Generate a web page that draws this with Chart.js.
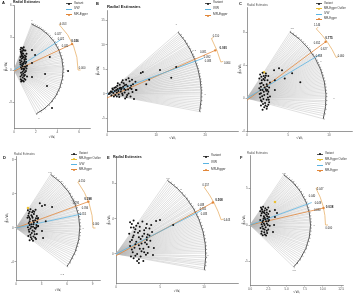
<!DOCTYPE html>
<html>
<head>
<meta charset="utf-8">
<script src="https://cdn.jsdelivr.net/npm/chart.js@4/dist/chart.umd.min.js"></script>
<style>
  body { margin: 0; width: 363px; height: 300px; background: #fff; position: relative; overflow: hidden;
         font-family: "Liberation Sans", "DejaVu Sans", sans-serif; }
  canvas { position: absolute; }
  .txt { position: absolute; white-space: nowrap; line-height: 1; color: #222; z-index: 2; }
  .key { position: absolute; width: 6px; height: 0; border-top: 0.7px solid; z-index: 2; }
  .key b { position: absolute; left: 2px; top: -1.4px; width: 2px; height: 2px; border-radius: 50%; }
</style>
</head>
<body>
<script>
// ---- data ----
const xTicks = [[0, 2, 4, 6], [0, 10, 20], [0, 5, 10], [0, 3, 6, 9], [0, 5, 10], [0, 2.5, 5, 7.5, 10, 12.5]];
const yTicks = [[-3, 0, 3, 6], [-5, 0, 5, 10, 15], [-4, 0, 4, 8], [-4, 0, 4, 8], [0, 4, 8], [-5, 0, 5]];

const variantsA = [[0.6,1.9],[0.75,2.0],[0.9,2.1],[1.05,1.8],[0.65,1.6],[0.85,1.5],[1.0,1.35],[1.15,1.5],[0.6,1.2],[0.8,1.1],
  [0.95,0.95],[1.1,1.0],[0.7,0.8],[0.9,0.7],[1.05,0.6],[0.6,0.5],[0.8,0.35],[1.0,0.3],[1.2,0.4],[0.7,0.1],[0.9,0.0],
  [1.1,-0.1],[0.65,-0.25],[0.85,-0.35],[1.0,-0.45],[0.6,-0.6],[0.8,-0.7],[0.95,-0.8],[0.7,-0.95],[0.9,-1.05],[0.75,1.75],
  [1.15,0.15],[0.55,0.9],[1.2,-0.6],[0.8,1.3],[0.7,1.45],[1.0,-0.2],[0.85,0.55],[0.65,2.05],[1.1,1.25],
  [0.62,1.7],[0.78,1.55],[0.92,1.8],[0.68,1.3],[0.88,1.2],[1.02,1.1],[0.58,0.7],[0.76,0.6],[0.98,0.8],[0.64,0.25],
  [0.84,0.15],[1.08,0.3],[0.72,-0.45],[0.92,-0.55],[0.62,-0.85],[0.82,-1.0],[1.05,-0.9],[0.74,0.45],[0.96,0.1],
  [0.7,1.05],[0.86,1.9],[1.12,0.75],[0.66,-1.05],[0.8,-0.15],
  [1.66,1.84],[1.94,1.38],[3.3,1.2],[1.66,0.65],[1.66,-0.65],[3.04,-1.47],[3.5,-3.5],[4.98,-0.1],[2.86,-0.37]];
const variantsB = [[1.2,0.9],[1.8,1.4],[2.2,1.0],[2.6,1.9],[3.0,1.2],[3.4,2.2],[3.8,0.8],[4.2,1.6],[4.6,2.6],[5.0,1.0],
  [2.0,0.3],[2.8,0.5],[3.2,-0.2],[3.6,0.3],[4.4,0.1],[4.8,-0.5],[5.2,0.4],[1.6,0.6],[2.4,-0.1],[3.0,2.4],[3.9,2.9],
  [4.4,3.2],[5.3,2.0],[1.0,0.4],[2.1,1.7],[4.0,-0.6],[5.5,-1.0],[3.3,1.5],[2.9,0.9],[4.9,1.7],[6.0,0.8],[5.8,2.5],
  [1.5,1.3],[0.6,0.2],[2.5,-0.6],[3.7,-0.9],[0.9,-0.3],[1.4,-0.5],
  [0.8,0.5],[1.3,0.2],[1.9,0.8],[2.3,0.6],[2.7,1.3],[3.1,0.1],[3.5,1.0],[3.9,1.9],[4.3,0.9],[1.7,-0.2],[2.2,2.2],
  [2.6,1.1],[3.6,1.8],[4.7,1.2],[5.1,2.9],[3.2,2.8],[2.0,-0.5],[4.1,-0.2],[1.1,1.1],[0.4,0.0],
  [14.1,5.5],[13.1,3.3],[8.6,2.9],[6.9,4.3],[5.9,0.8],[8.0,2.0],[7.3,4.5],[10.8,4.9]];
const variantsC = [[1.6,2.9],[1.9,3.1],[2.3,3.0],[2.6,2.7],[1.5,2.4],[1.8,2.2],[2.2,2.5],[2.5,2.2],[2.8,1.9],[1.6,1.8],
  [2.0,1.6],[2.4,1.7],[2.7,1.3],[1.5,1.2],[1.9,1.0],[2.3,1.1],[2.6,0.8],[1.7,0.6],[2.1,0.4],[2.5,0.5],[2.8,0.2],
  [1.6,0.1],[2.0,-0.1],[2.4,-0.2],[2.7,-0.5],[1.8,-0.4],[2.2,-0.6],[2.6,-0.8],[1.7,-0.9],[2.1,-1.1],[2.4,-1.3],
  [1.9,-1.4],[2.05,2.7],[1.7,1.4],[2.35,0.9],
  [1.75,2.6],[2.15,2.2],[2.45,1.45],[1.65,1.0],[2.05,0.8],[2.55,0.1],[1.85,0.25],[2.25,-0.9],[2.0,2.35],[2.5,1.0],
  [1.55,0.5],[2.15,1.3],[1.95,-0.7],[2.65,-0.2],[1.8,1.85],[2.3,2.75],[1.7,-0.25],[2.45,-1.0],
  [3.3,3.4],[3.9,3.66],[4.27,3.4],[5.5,3.05],[3.4,2.2],[3.4,1.0],[4.6,2.4],[6.5,1.95]];
const variantsD = [[1.4,2.1],[1.7,2.2],[2.0,2.0],[2.3,2.15],[1.5,1.7],[1.8,1.5],[2.1,1.65],[2.45,1.4],[1.35,1.2],[1.65,1.05],
  [1.95,1.2],[2.25,0.9],[2.55,1.1],[1.5,0.6],[1.8,0.45],[2.1,0.65],[2.4,0.35],[1.4,0.1],[1.7,-0.05],[2.0,0.15],
  [2.3,-0.1],[2.6,0.2],[1.55,-0.45],[1.85,-0.6],[2.15,-0.4],[2.45,-0.7],[1.45,-0.95],[1.75,-1.1],[2.05,-1.0],
  [2.35,-1.3],[1.6,-1.45],[2.0,-1.5],[1.9,1.85],[2.2,0.0],[1.6,0.35],
  [1.6,1.9],[2.15,1.9],[1.45,1.45],[1.9,1.35],[2.35,1.15],[1.6,0.8],[2.0,0.85],[2.5,0.7],[1.5,-0.2],[1.95,-0.3],
  [2.4,0.1],[1.7,-0.8],[2.2,-0.75],[1.85,-1.3],[2.25,-1.15],[1.8,0.15],[2.05,0.45],[1.55,1.25],
  [3.06,2.59],[3.4,2.7],[4.24,2.47],[2.6,1.18],[2.6,0.24],[3.06,-0.35],[3.18,-1.18],[2.8,2.9],[3.5,0.8]];
const variantsE = [[1.6,3.6],[2.0,3.8],[2.5,3.5],[3.0,3.7],[3.5,3.4],[1.7,3.0],[2.2,2.8],[2.7,3.1],[3.2,2.7],[3.8,2.9],
  [1.5,2.3],[2.0,2.1],[2.5,2.4],[3.0,2.0],[3.6,2.2],[4.1,2.5],[1.8,1.6],[2.3,1.4],[2.8,1.7],[3.3,1.3],[3.9,1.5],
  [1.6,0.9],[2.1,0.7],[2.6,1.0],[3.1,0.6],[3.7,0.8],[1.9,0.2],[2.4,0.0],[2.9,0.3],[3.4,-0.1],[2.0,-0.5],[2.6,-0.6],
  [3.1,-0.8],[1.7,-0.3],[3.6,0.1],[2.3,3.2],[4.0,3.3],
  [1.8,3.4],[2.7,2.6],[3.4,2.95],[2.1,2.5],[3.2,2.3],[1.9,1.9],[2.6,1.9],[3.5,1.9],[2.2,1.1],[2.9,1.2],[3.5,1.1],
  [1.8,0.5],[2.7,0.6],[3.2,0.2],[2.2,-0.2],[2.8,-0.3],[1.6,1.4],[3.8,2.1],[2.4,-0.8],[2.0,3.0],
  [4.55,3.75],[5.0,3.86],[4.3,0.68],[4.2,-0.11],[2.6,-1.02],[6.5,3.3],[3.5,1.6]];
const variantsF = [[1.5,2.4],[1.8,2.5],[2.1,2.3],[2.5,2.4],[1.4,1.9],[1.7,1.8],[2.0,2.0],[2.3,1.7],[2.7,1.9],[1.5,1.3],
  [1.9,1.2],[2.2,1.4],[2.6,1.1],[1.4,0.7],[1.8,0.6],[2.1,0.8],[2.5,0.5],[1.6,0.1],[2.0,0.0],[2.3,0.2],[2.7,-0.1],
  [1.45,-0.4],[1.8,-0.5],[2.15,-0.3],[2.5,-0.6],[1.6,-0.9],[1.95,-1.0],[2.35,-1.1],[1.75,-1.4],[2.2,-1.45],
  [2.0,1.6],[2.4,0.9],[1.65,2.1],
  [1.6,2.2],[2.3,2.1],[1.9,1.75],[2.5,1.5],[1.6,1.6],[2.0,1.0],[2.35,1.2],[1.7,0.4],[2.2,0.5],[1.9,0.2],[2.45,0.0],
  [1.7,-0.2],[2.0,-0.6],[2.3,-0.8],[1.55,-1.2],[2.05,-1.3],[1.85,0.9],[2.6,0.7],
  [3.42,2.05],[3.7,1.64],[3.42,1.1],[3.3,0.0],[3.15,-0.96]];
const outliers = [[], [], [[2.07, 3.17]], [[1.41, 2.35]], [], [[3.42, 3.15]]];

// ratio estimates of the variants, shown as the grey fan
const fanA = [2.6,2.45,2.35,2.2,2.1,2.0,1.9,1.8,1.7,1.62,1.55,1.47,1.4,1.34,1.28,1.2,1.15,1.1,1.05,1.0,0.95,0.9,0.85,
  0.8,0.76,0.72,0.68,0.64,0.6,0.56,0.52,0.48,0.44,0.4,0.37,0.33,0.3,0.26,0.22,0.18,0.15,0.11,0.08,0.05,0.02,-0.02,
  -0.05,-0.09,-0.12,-0.16,-0.2,-0.24,-0.28,-0.32,-0.37,-0.42,-0.46,-0.51,-0.56,-0.62,-0.68,-0.75,-0.82,-0.9,-1.0,
  -1.12,-1.25,-1.4,-1.55,-1.75,-1.96];
const fanB = [0.87,0.83,0.8,0.77,0.74,0.71,0.68,0.65,0.63,0.6,0.58,0.56,0.54,0.52,0.5,0.48,0.46,0.44,0.43,0.41,0.4,
  0.38,0.37,0.35,0.34,0.32,0.31,0.29,0.28,0.26,0.25,0.23,0.22,0.2,0.19,0.17,0.16,0.14,0.13,0.11,0.1,0.08,0.07,0.05,
  0.04,0.02,0.01,-0.01,-0.03,-0.05,-0.07,-0.09,-0.11,-0.13,-0.15,-0.17,-0.19];
const fanC = [1.54,1.47,1.4,1.34,1.28,1.22,1.17,1.12,1.08,1.04,1.0,0.96,0.93,0.9,0.87,0.84,0.81,0.78,0.76,0.73,0.71,
  0.68,0.66,0.64,0.62,0.6,0.58,0.56,0.54,0.52,0.5,0.48,0.46,0.44,0.42,0.4,0.38,0.36,0.34,0.32,0.3,0.28,0.26,0.24,
  0.22,0.2,0.18,0.16,0.14,0.12,0.1,0.08,0.06,0.04,0.02,0.0,-0.03,-0.05,-0.08,-0.11,-0.14,-0.17,-0.2,-0.23,-0.27];
const fanD = [1.54,1.46,1.38,1.31,1.25,1.19,1.13,1.08,1.03,0.98,0.94,0.89,0.85,0.81,0.77,0.73,0.7,0.66,0.63,0.59,0.56,
  0.53,0.5,0.47,0.44,0.41,0.38,0.35,0.33,0.3,0.28,0.25,0.23,0.2,0.18,0.15,0.13,0.1,0.08,0.05,0.03,0.0,-0.02,-0.05,
  -0.07,-0.1,-0.12,-0.15,-0.18,-0.21,-0.24,-0.27,-0.3,-0.33,-0.37,-0.41,-0.45,-0.49,-0.54,-0.59,-0.64,-0.69,-0.75];
const fanE = [1.43,1.36,1.3,1.24,1.19,1.14,1.09,1.04,1.0,0.96,0.92,0.88,0.85,0.81,0.78,0.75,0.72,0.7,0.67,0.64,0.62,
  0.6,0.57,0.55,0.53,0.51,0.49,0.47,0.45,0.43,0.41,0.39,0.37,0.35,0.33,0.31,0.29,0.27,0.25,0.23,0.21,0.19,0.17,0.15,
  0.13,0.11,0.09,0.07,0.05,0.03,0.01,-0.02,-0.04,-0.07,-0.09,-0.11,-0.13,-0.16,-0.18];
const fanF = [1.48,1.4,1.33,1.26,1.2,1.14,1.08,1.03,0.98,0.93,0.89,0.84,0.8,0.76,0.72,0.68,0.65,0.61,0.58,0.55,0.52,
  0.49,0.46,0.43,0.4,0.38,0.35,0.33,0.3,0.28,0.25,0.23,0.2,0.18,0.15,0.13,0.1,0.08,0.05,0.03,0.0,-0.03,-0.05,-0.08,
  -0.1,-0.13,-0.16,-0.19,-0.22,-0.25,-0.28,-0.31,-0.35,-0.38,-0.42,-0.46,-0.5,-0.54,-0.59,-0.64,-0.69,-0.75,-0.81,
  -0.88,-0.96];

const ivwSlope = [0.65, 0.372, 0.6, 0.213, 0.51, 0.364];
const eggerSlope = [0.466, 0.44, 0.743, 0.364, 0.55, 0.231];
const eggerIntercept = [-0.1, -0.8, -0.25, 0, -0.2, 0];
const fanRadius = [4.52, 19.2, 9.63, 7.5, 10.2, 8.29];
const estRadius = [5.9, 24.1, 11.95, 9.06, 12.56, 10.34];
const estLow = [0, 0.281, 0.456, 0, 0.325, 0];
const estHigh = [1.0, 0.532, 1.0, 0.743, 0.754, 0.554];

// estimate labels: text, x, y, bold
const labelsA = [['0.053',4.52,4.24,0],['0.027',4.06,3.32,0],['0.022',4.33,2.86,0],['0.026',5.62,2.67,1],['0.020',4.7,2.21,0],['0.000',6.27,0.18,0]];
const labelsB = [['0.110',22.2,11.8,0],['0.091',23.7,9.4,1],['0.081',19.6,8.6,0],['0.092',20.4,7.55,0],['0.083',20.6,6.7,0],['0.064',24.5,6.3,0]];
const labelsC = [['1.146',8.54,8.9,0],['0.775',10.0,7.3,1],['0.652',8.54,6.7,0],['0.627',9.4,6.0,0],['0.608',8.78,5.1,0],['0.460',11.46,5.1,0]];
const labelsD = [['0.150',7.76,5.53,0],['0.398',8.47,3.41,1],['0.295',7.06,2.94,0],['0.394',8.12,2.35,0],['0.315',7.88,1.65,0],['0.000',9.41,0.47,0]];
const labelsE = [['0.557',10.2,7.84,0],['0.508',11.7,6.14,1],['0.488',9.66,5.57,0],['0.505',9.89,5.11,0],['0.483',10.0,4.55,0],['0.443',12.6,3.86,0]];
const labelsF = [['0.047',9.6,4.9,0],['0.040',8.5,4.0,0],['0.049',9.3,3.0,0],['0.038',10.9,2.5,1],['0.030',9.2,2.05,0],['0.000',10.8,-0.4,0]];
// scale labels on the black arc
const arcTextA = [['1',1.66,4.6],['0',4.9,0],['-1',2.25,-4.5]];
const arcTextB = [['1',14.1,14.3],['0.5',17.8,9.0],['0',20.0,0]];
const arcTextC = [['1.5',5.5,8.5],['1',9.0,4.5],['0',10.6,0]];
const arcTextD = [['1.5',4.0,6.6],['1',5.4,5.5],['0.5',6.7,3.3],['0',7.9,0],['-0.5',5.4,-5.4]];
const arcTextE = [['1.5',5.9,8.6],['1',7.4,7.3],['0',10.45,-0.2]];
const arcTextF = [['1.5',4.66,7.1],['1',6.0,6.0],['0',8.8,0],['-0.5',6.0,-6.2]];

const legendBasic = ['Variant', 'IVW', 'MR-Egger'];
const legendOutlier = ['Variant', 'MR-Egger Outlier', 'IVW', 'MR-Egger'];

// ---- layout of the figure ----
const colors = { 'Variant': '#111', 'MR-Egger Outlier': '#ebc034', 'IVW': '#5ab4e2', 'MR-Egger': '#e2873a' };
const panels = [
  { id: 'A', box: [0, 0, 100, 141], area: [14, 5, 90, 128], xMax: 7.0, yMin: -5.35, yMax: 6.0, xT: 137, yT: 6, dec: 0,
    title: [13, 3, 3.4, true], letter: [2, 3], legend: [66, [3, 8.5, 14], 3, legendBasic] },
  { id: 'B', box: [93, 0, 147, 142], area: [107, 10, 238, 131], xMax: 26.7, yMin: -7.55, yMax: 17.14, xT: 138, yT: 98, dec: 0,
    title: [107, 7, 4.2, true], letter: [96, 4], legend: [205, [3, 9, 15], 3.2, legendBasic] },
  { id: 'C', box: [236, 0, 127, 142], area: [247, 7, 352, 131], xMax: 12.8, yMin: -4, yMax: 11.12, xT: 138, yT: 240, dec: 0,
    title: [247, 5, 2.8, false], letter: [239, 4], legend: [316, [3, 8, 13.5, 18.5], 2.8, legendOutlier] },
  { id: 'D', box: [0, 150, 105, 146], area: [16, 156, 100, 280], xMax: 9.88, yMin: -6.12, yMax: 8.47, xT: 290, yT: 7, dec: 0,
    title: [14, 154, 2.8, false], letter: [3, 158], legend: [71, [153.5, 158.5, 164, 169], 2.8, legendOutlier] },
  { id: 'E', box: [105, 150, 135, 146], area: [116, 157, 238, 283], xMax: 13.86, yMin: -3.3, yMax: 11.02, xT: 291, yT: 109, dec: 0,
    title: [113, 158, 3.6, true], letter: [107, 158], legend: [203, [156, 163, 169.5], 3.2, legendBasic] },
  { id: 'F', box: [238, 150, 125, 146], area: [250, 155, 343, 285], xMax: 12.74, yMin: -8.22, yMax: 9.59, xT: 292, yT: 244, dec: 1,
    title: [247, 153, 2.8, false], letter: [240, 158], legend: [317, [153.5, 159, 164.5, 170], 2.8, legendOutlier] }
];
const variants = [variantsA, variantsB, variantsC, variantsD, variantsE, variantsF];
const fans = [fanA, fanB, fanC, fanD, fanE, fanF];
const estLabels = [labelsA, labelsB, labelsC, labelsD, labelsE, labelsF];
const arcTexts = [arcTextA, arcTextB, arcTextC, arcTextD, arcTextE, arcTextF];

// draws the scale arc, the estimate arc and their labels from the chart's scales
const radialPlugin = {
  id: 'radial',
  beforeDatasetsDraw(chart, args, opts) {
    const xs = chart.scales.x, ys = chart.scales.y, c = chart.ctx;
    const ox = xs.getPixelForValue(0), oy = ys.getPixelForValue(0);
    const kx = xs.getPixelForValue(1) - ox, ky = oy - ys.getPixelForValue(1);
    const ang = s => Math.atan2(s * ky, kx);
    c.save();
    const fr = opts.fanR * kx;
    const lo = ang(Math.min(...opts.fan)), hi = ang(Math.max(...opts.fan));
    c.strokeStyle = '#3a3a3a';
    c.lineWidth = 0.5;
    opts.fan.forEach((s, j) => {
      if (j % 2) return;
      const a = ang(s);
      c.beginPath();
      c.moveTo(ox + fr * Math.cos(a), oy - fr * Math.sin(a));
      c.lineTo(ox + (fr + 1.4) * Math.cos(a), oy - (fr + 1.4) * Math.sin(a));
      c.stroke();
    });
    c.lineWidth = 0.9;
    c.beginPath();
    c.arc(ox, oy, fr, -hi, -lo);
    c.stroke();

    const er = opts.estR * kx, a0 = ang(opts.estLo), a1 = ang(opts.estHi);
    c.strokeStyle = '#e8b36c';
    c.lineWidth = 0.8;
    c.beginPath();
    c.arc(ox, oy, er, -a1, -a0);
    c.stroke();
    [a0, a1].forEach(a => {
      c.beginPath();
      c.moveTo(ox + er * Math.cos(a), oy - er * Math.sin(a));
      c.lineTo(ox + (er + 2.5) * Math.cos(a), oy - (er + 2.5) * Math.sin(a));
      c.stroke();
    });
    c.restore();
  },
  afterDatasetsDraw(chart, args, opts) {
    const xs = chart.scales.x, ys = chart.scales.y, c = chart.ctx;
    c.save();
    c.textAlign = 'center';
    c.textBaseline = 'middle';
    opts.labels.forEach(([t, x, y, b]) => {
      c.font = (b ? 'bold 3px' : '2.6px') + ' "Liberation Sans"';
      c.fillStyle = '#222';
      c.fillText(t, xs.getPixelForValue(x), ys.getPixelForValue(y));
    });
    c.font = '2.5px "Liberation Sans"';
    c.fillStyle = '#666';
    opts.arcText.forEach(([t, x, y]) => c.fillText(t, xs.getPixelForValue(x), ys.getPixelForValue(y)));
    c.restore();
  }
};

function addText(text, x, y, size, bold, color) {
  const d = document.createElement('div');
  d.className = 'txt';
  d.textContent = text;
  d.style.left = x + 'px';
  d.style.top = (y - size / 2) + 'px';
  d.style.fontSize = size + 'px';
  d.style.fontWeight = bold ? 'bold' : 'normal';
  if (color) d.style.color = color;
  document.body.appendChild(d);
}

function addLegend([x, rows, size, items]) {
  items.forEach((name, i) => {
    const k = document.createElement('div');
    k.className = 'key';
    const col = colors[name];
    k.style.left = x + 'px';
    k.style.top = rows[i] + 'px';
    k.style.borderColor = name === 'Variant' ? '#555' : col;
    if (name !== 'IVW') {
      const dot = document.createElement('b');
      dot.style.background = col;
      k.appendChild(dot);
    }
    document.body.appendChild(k);
    addText(name, x + 8, rows[i], size, false, '#333');
  });
}

panels.forEach((p, i) => {
  const [bx, by, bw, bh] = p.box;
  const [L, T, R, B] = p.area;
  const cv = document.createElement('canvas');
  cv.width = bw;
  cv.height = bh;
  cv.style.left = bx + 'px';
  cv.style.top = by + 'px';
  document.body.appendChild(cv);

  const ts = 3.5;
  const datasets = [];
  fans[i].forEach(s => {
    const a = Math.atan(s);
    datasets.push({ data: [{ x: 0, y: 0 }, { x: fanRadius[i] * Math.cos(a), y: fanRadius[i] * Math.sin(a) }],
      showLine: true, borderColor: '#b9b9b9', borderWidth: 0.45, pointRadius: 0, order: 5 });
  });
  const ai = Math.atan(ivwSlope[i]), ae = Math.atan(eggerSlope[i]);
  const xi = 0.87 * estRadius[i] * Math.cos(ai), xe = estRadius[i] * Math.cos(ae);
  datasets.push({ label: 'IVW', data: [{ x: 0, y: 0 }, { x: xi, y: ivwSlope[i] * xi }],
    showLine: true, borderColor: colors['IVW'], borderWidth: 0.8, pointRadius: 0, order: 3 });
  datasets.push({ label: 'MR-Egger', data: [{ x: 0, y: eggerIntercept[i] }, { x: xe, y: eggerIntercept[i] + eggerSlope[i] * xe }],
    showLine: true, borderColor: colors['MR-Egger'], borderWidth: 0.8, backgroundColor: colors['MR-Egger'],
    pointRadius: ctx => ctx.dataIndex === 1 ? 1.2 : 0, pointBorderWidth: 0, order: 3 });
  datasets.push({ label: 'Variant', data: variants[i].map(([x, y]) => ({ x, y })),
    backgroundColor: '#111', pointRadius: 1.0, pointBorderWidth: 0, order: 1 });
  datasets.push({ label: 'MR-Egger Outlier', data: outliers[i].map(([x, y]) => ({ x, y })),
    backgroundColor: colors['MR-Egger Outlier'], pointRadius: 1.3, pointBorderWidth: 0, order: 1 });

  const axisCommon = {
    type: 'linear',
    grid: { drawOnChartArea: false, tickLength: 1.5, color: '#555', lineWidth: 0.5 },
    border: { color: '#555', width: 0.6 },
    ticks: { font: { size: 3, family: 'Liberation Sans' }, color: '#555', padding: 0.8, autoSkip: false, maxRotation: 0 }
  };

  new Chart(cv, {
    type: 'scatter',
    data: { datasets },
    options: {
      responsive: false,
      animation: false,
      devicePixelRatio: 1,
      layout: { autoPadding: false, padding: { left: 0, top: T - by, right: bx + bw - R, bottom: 0 } },
      plugins: {
        legend: { display: false },
        tooltip: { enabled: false },
        radial: { fan: fans[i], fanR: fanRadius[i], estR: estRadius[i], estLo: estLow[i], estHi: estHigh[i],
                  labels: estLabels[i], arcText: arcTexts[i] }
      },
      scales: {
        x: { ...axisCommon, min: 0, max: p.xMax,
          ticks: { ...axisCommon.ticks, callback: v => Number(v).toFixed(p.dec) },
          afterBuildTicks: s => { s.ticks = xTicks[i].map(v => ({ value: v })); },
          afterFit: s => { s.height = by + bh - B; },
          title: { display: true, text: '\u221AW\u2C7C', color: '#333', font: { size: ts, family: 'DejaVu Sans' },
                   padding: { top: 0, bottom: bh - 0.6 * ts - (p.xT - by) } } },
        y: { ...axisCommon, min: p.yMin, max: p.yMax,
          afterBuildTicks: s => { s.ticks = yTicks[i].map(v => ({ value: v })); },
          afterFit: s => { s.width = L - bx; },
          title: { display: true, text: '\u03B2\u0302\u2C7C\u221AW\u2C7C', color: '#333', font: { size: ts, family: 'DejaVu Sans' },
                   padding: { top: p.yT - bx - 0.6 * ts, bottom: 0 } } }
      }
    },
    plugins: [radialPlugin]
  });

  addText(p.id, p.letter[0], p.letter[1], 4, true, '#111');
  addText('Radial Estimates', p.title[0], p.title[1], p.title[2], p.title[3], p.title[3] ? '#222' : '#555');
  addLegend(p.legend);
});
</script>
</body>
</html>
